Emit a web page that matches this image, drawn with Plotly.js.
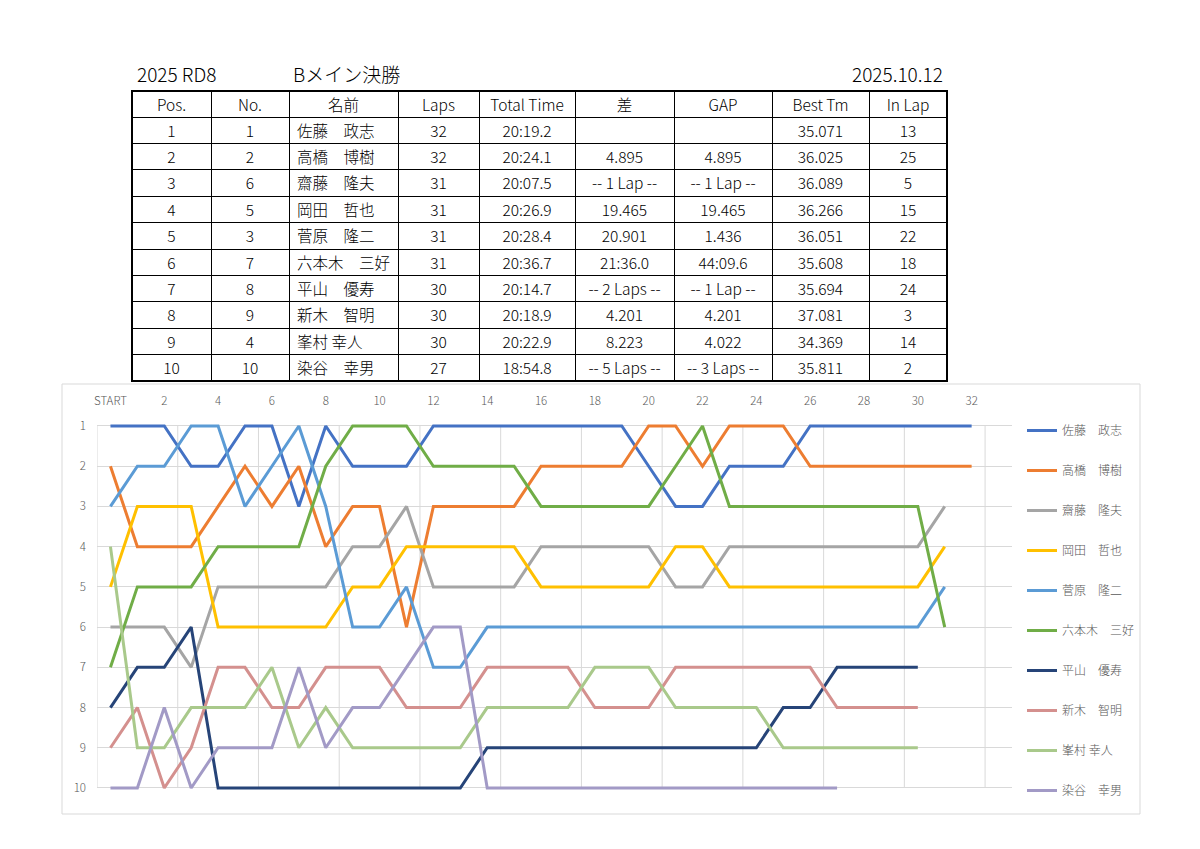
<!DOCTYPE html>
<html><head><meta charset="utf-8">
<script src="https://cdn.plot.ly/plotly-3.0.1.min.js"></script>
<style>html,body{margin:0;padding:0;background:#fff}</style>
</head><body>
<div id="chart" style="width:1200px;height:849px"></div>
<script>
// ---- data ----
const laps = [0,1,2,3,4,5,6,7,8,9,10,11,12,13,14,15,16,17,18,19,20,21,22,23,24,25,26,27,28,29,30,31,32];
const lapTickVals = [0,2,4,6,8,10,12,14,16,18,20,22,24,26,28,30,32];
const lapTickText = ['START','2','4','6','8','10','12','14','16','18','20','22','24','26','28','30','32'];
const positionTicks = [1,2,3,4,5,6,7,8,9,10];

const driverNames = ['佐藤　政志','高橋　博樹','齋藤　隆夫','岡田　哲也','菅原　隆二','六本木　三好','平山　優寿','新木　智明','峯村 幸人','染谷　幸男'];

const posSato      = [1,1,1,2,2,1,1,3,1,2,2,2,1,1,1,1,1,1,1,1,2,3,3,2,2,2,1,1,1,1,1,1,1];
const posTakahashi = [2,4,4,4,3,2,3,2,4,3,3,6,3,3,3,3,2,2,2,2,1,1,2,1,1,1,2,2,2,2,2,2,2];
const posSaito     = [6,6,6,7,5,5,5,5,5,4,4,3,5,5,5,5,4,4,4,4,4,5,5,4,4,4,4,4,4,4,4,3];
const posOkada     = [5,3,3,3,6,6,6,6,6,5,5,4,4,4,4,4,5,5,5,5,5,4,4,5,5,5,5,5,5,5,5,4];
const posSugawara  = [3,2,2,1,1,3,2,1,3,6,6,5,7,7,6,6,6,6,6,6,6,6,6,6,6,6,6,6,6,6,6,5];
const posRoppongi  = [7,5,5,5,4,4,4,4,2,1,1,1,2,2,2,2,3,3,3,3,3,2,1,3,3,3,3,3,3,3,3,6];
const posHirayama  = [8,7,7,6,10,10,10,10,10,10,10,10,10,10,9,9,9,9,9,9,9,9,9,9,9,8,8,7,7,7,7];
const posAraki     = [9,8,10,9,7,7,8,8,7,7,7,8,8,8,7,7,7,7,8,8,8,7,7,7,7,7,7,8,8,8,8];
const posMinemura  = [4,9,9,8,8,8,7,9,8,9,9,9,9,9,8,8,8,8,7,7,7,8,8,8,8,9,9,9,9,9,9];
const posSomeya    = [10,10,8,10,9,9,9,7,9,8,8,7,6,6,10,10,10,10,10,10,10,10,10,10,10,10,10,10];
const positionSeries = [posSato,posTakahashi,posSaito,posOkada,posSugawara,posRoppongi,posHirayama,posAraki,posMinemura,posSomeya];

// results table
const tableHeader = ['Pos.','No.','名前','Laps','Total Time','差','GAP','Best Tm','In Lap'];
const colPos   = ['1','2','3','4','5','6','7','8','9','10'];
const colNo    = ['1','2','6','5','3','7','8','9','4','10'];
const colName  = ['佐藤　政志','高橋　博樹','齋藤　隆夫','岡田　哲也','菅原　隆二','六本木　三好','平山　優寿','新木　智明','峯村 幸人','染谷　幸男'];
const colLaps  = ['32','32','31','31','31','31','30','30','30','27'];
const colTotal = ['20:19.2','20:24.1','20:07.5','20:26.9','20:28.4','20:36.7','20:14.7','20:18.9','20:22.9','18:54.8'];
const colDiff  = ['','4.895','-- 1 Lap --','19.465','20.901','21:36.0','-- 2 Laps --','4.201','8.223','-- 5 Laps --'];
const colGap   = ['','4.895','-- 1 Lap --','19.465','1.436','44:09.6','-- 1 Lap --','4.201','4.022','-- 3 Laps --'];
const colBest  = ['35.071','36.025','36.089','36.266','36.051','35.608','35.694','37.081','34.369','35.811'];
const colInLap = ['13','25','5','15','22','18','24','3','14','2'];

// ---- styles ----
const seriesColors = ['#4472C4','#ED7D31','#A5A5A5','#FFC000','#5B9BD5','#70AD47','#264478','#D4908E','#A9C98B','#A29AC6'];
const W = 1200, H = 849;
const px = v => v / W;
const py = v => 1 - v / H;
const FONT = '"Noto Sans CJK JP", "Noto Sans", sans-serif';

const traces = positionSeries.map((s, i) => ({
  type: 'scatter', mode: 'lines',
  x: laps.slice(0, s.length), y: s,
  name: driverNames[i], legendgroup: 'g' + i,
  line: {color: seriesColors[i], width: 3},
  xaxis: 'x', yaxis: 'y', hoverinfo: 'skip'
}));

traces.push({
  type: 'table',
  domain: {x: [px(132), px(947)], y: [py(381), py(91)]},
  columnwidth: [79, 78, 109, 81, 96, 99, 98, 97, 78],
  header: {
    values: tableHeader,
    height: 26,
    align: 'center',
    line: {color: '#000', width: 1},
    fill: {color: '#fff'},
    font: {family: FONT, size: 15.5, color: '#000', weight: 300}
  },
  cells: {
    values: [colPos, colNo, colName, colLaps, colTotal, colDiff, colGap, colBest, colInLap],
    height: 26.4,
    align: ['center','center','left','center','center','center','center','center','center'],
    line: {color: '#000', width: 1},
    fill: {color: '#fff'},
    font: {family: FONT, size: 15.5, color: '#000', weight: 300}
  },
  showlegend: false
});

// vertical gridlines every 3 laps at category boundaries
const gridX = [-0.5,2.5,5.5,8.5,11.5,14.5,17.5,20.5,23.5,26.5,29.5,32.5];
const shapes = gridX.map(g => ({
  type: 'line', xref: 'x', yref: 'y', x0: g, x1: g, y0: 1, y1: 10,
  line: {color: '#D9D9D9', width: 1}, layer: 'below'
}));
shapes.push({type: 'rect', xref: 'paper', yref: 'paper', x0: px(62), x1: px(1140), y0: py(814), y1: py(384),
  line: {color: '#D9D9D9', width: 1}});
shapes.push({type: 'rect', xref: 'paper', yref: 'paper', x0: px(132), x1: px(947), y0: py(381), y1: py(91),
  line: {color: '#000', width: 2}});

const unit = (788 - 426) / 9;
const layout = {
  width: W, height: H, autosize: false,
  margin: {l: 0, r: 0, t: 0, b: 0},
  paper_bgcolor: '#fff', plot_bgcolor: 'rgba(0,0,0,0)',
  font: {family: FONT, color: '#595959'},
  showlegend: true,
  xaxis: {
    domain: [px(97), px(1012)], range: [-0.5, 33.5], side: 'top',
    tickmode: 'array', tickvals: lapTickVals, ticktext: lapTickText,
    showgrid: false, zeroline: false, showline: false, ticks: '',
    tickfont: {size: 11.5, color: '#595959', weight: 300}, ticklabelstandoff: 14, fixedrange: true
  },
  yaxis: {
    domain: [py(788 + 0.1 * unit), py(426 - 0.1 * unit)], range: [10.1, 0.9],
    tickmode: 'array', tickvals: positionTicks,
    showgrid: true, gridcolor: '#D9D9D9', gridwidth: 1,
    zeroline: false, showline: false, ticks: '',
    tickfont: {size: 11.5, color: '#595959', weight: 300}, ticklabelstandoff: 10, fixedrange: true
  },
  legend: {
    x: px(1022), y: py(416), xanchor: 'left', yanchor: 'top',
    font: {size: 12, color: '#595959', family: FONT, weight: 300},
    tracegroupgap: 21, bgcolor: 'rgba(0,0,0,0)', itemwidth: 30
  },
  shapes: shapes,
  annotations: [
    {text: '2025 RD8', xref: 'paper', yref: 'paper', x: px(135), y: py(74), xanchor: 'left', yanchor: 'middle', showarrow: false, font: {size: 19, color: '#000', family: FONT, weight: 300}},
    {text: 'Bメイン決勝', xref: 'paper', yref: 'paper', x: px(291), y: py(74), xanchor: 'left', yanchor: 'middle', showarrow: false, font: {size: 19, color: '#000', family: FONT, weight: 300}},
    {text: '2025.10.12', xref: 'paper', yref: 'paper', x: px(945), y: py(74), xanchor: 'right', yanchor: 'middle', showarrow: false, font: {size: 19, color: '#000', family: FONT, weight: 300}}
  ]
};

Plotly.newPlot('chart', traces, layout, {displayModeBar: false, staticPlot: true});
</script>
</body></html>
